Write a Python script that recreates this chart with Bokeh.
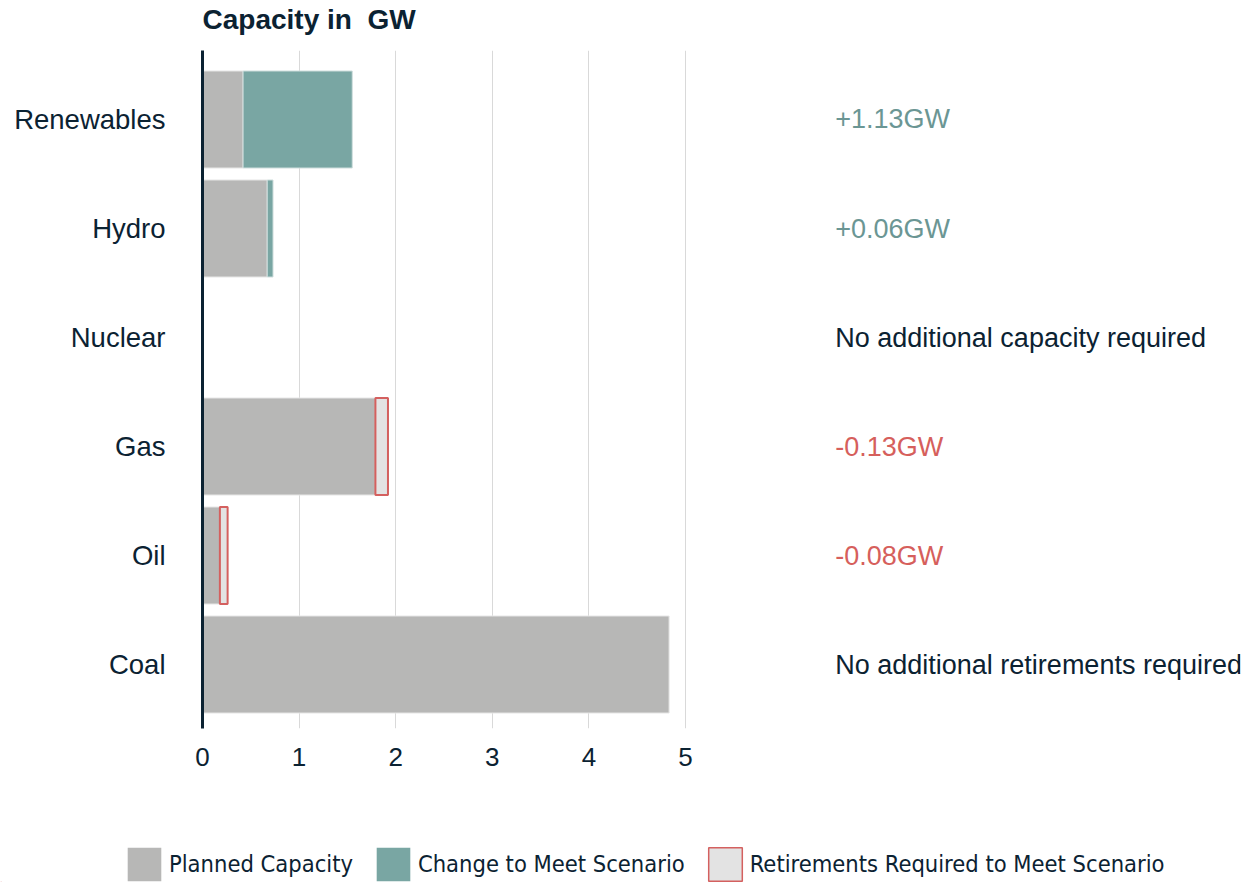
from bokeh.plotting import figure
from bokeh.models import Range1d, FixedTicker, Legend, LegendItem, ColumnDataSource
from bokeh.core.properties import value
from bokeh.embed import file_html
from bokeh.resources import INLINE

title_text = "Capacity in\u00a0 GW"
categories = ["Renewables", "Hydro", "Nuclear", "Gas", "Oil", "Coal"]
planned = [0.42, 0.67, 0.0, 1.79, 0.18, 4.83]
change = [1.13, 0.06, 0.0, 0.0, 0.0, 0.0]
retire = [0.0, 0.0, 0.0, 0.13, 0.08, 0.0]
notes = ["+1.13GW", "+0.06GW", "No additional capacity required",
         "-0.13GW", "-0.08GW", "No additional retirements required"]
note_kind = ["add", "add", "none", "ret", "ret", "none"]
x_ticks = [0, 1, 2, 3, 4, 5]
legend_labels = ["Planned Capacity", "Change to Meet Scenario",
                 "Retirements Required to Meet Scenario"]

DARK = "#0b2232"
GREY = "#b7b7b6"
TEAL = "#79a6a3"
RET_FILL = "#e3e3e3"
RET_LINE = "#d4605f"
kind_color = {"add": "#6b9694", "ret": "#d65f5c", "none": DARK}

W = 1249
n = len(categories)
ypos = [n - 1 - i for i in range(n)]


def bare(height):
    f = figure(width=W, height=height, output_backend="svg", toolbar_location=None,
               x_range=Range1d(0, W), y_range=Range1d(0, height),
               min_border_left=0, min_border_right=0, min_border_top=0,
               min_border_bottom=0)
    f.axis.visible = False
    f.grid.visible = False
    f.outline_line_color = None
    return f


# ---- title strip
tf = bare(50)
tf.text(x=[202], y=[31.5], text=[title_text], text_color=DARK,
        text_font=value("Liberation Sans"), text_font_size="28px",
        text_font_style="bold", text_align="left", text_baseline="alphabetic")

# ---- main chart
p = figure(width=W, height=750, output_backend="svg", toolbar_location=None,
           x_range=Range1d(0, 10.745), y_range=Range1d(-0.587, 5.633),
           min_border_left=202, min_border_right=9, min_border_top=0,
           min_border_bottom=72)
p.outline_line_color = None
p.background_fill_color = "white"

bar_h = 0.89

src_p = ColumnDataSource(dict(y=ypos, left=[0] * n, right=planned))
p.hbar(y="y", left="left", right="right", height=bar_h, source=src_p,
       fill_color=GREY, line_color="#e6e6e6", line_width=1)

cy, cl, cr = [], [], []
for y, pl, c in zip(ypos, planned, change):
    if c > 0:
        cy.append(y); cl.append(pl); cr.append(pl + c)
src_c = ColumnDataSource(dict(y=cy, left=cl, right=cr))
p.hbar(y="y", left="left", right="right", height=bar_h, source=src_c,
       fill_color=TEAL, line_color="#cfdedd", line_width=1)

ry, rl, rr = [], [], []
for y, pl, r in zip(ypos, planned, retire):
    if r > 0:
        ry.append(y); rl.append(pl); rr.append(pl + r)
src_r = ColumnDataSource(dict(y=ry, left=rl, right=rr))
p.hbar(y="y", left="left", right="right", height=bar_h, source=src_r,
       fill_color=RET_FILL, line_color=RET_LINE, line_width=2)

src_n = ColumnDataSource(dict(x=[6.55] * n, y=ypos, text=notes,
                              color=[kind_color[k] for k in note_kind]))
p.text(x="x", y="y", text="text", source=src_n, text_color="color",
       text_font=value("Liberation Sans"), text_font_size="27px",
       text_align="left", text_baseline="middle")

p.xaxis.ticker = FixedTicker(ticks=x_ticks)
p.xaxis.axis_line_color = None
p.xaxis.major_tick_line_color = None
p.xaxis.minor_tick_line_color = None
p.xaxis.major_label_text_font = "Liberation Sans"
p.xaxis.major_label_text_font_size = "26px"
p.xaxis.major_label_text_color = DARK
p.xaxis.major_label_standoff = 13

p.yaxis.ticker = FixedTicker(ticks=ypos)
p.yaxis.major_label_overrides = {y: c for y, c in zip(ypos, categories)}
p.yaxis.axis_line_color = DARK
p.yaxis.axis_line_width = 3
p.yaxis.major_tick_line_color = None
p.yaxis.minor_tick_line_color = None
p.yaxis.major_label_text_font = "Liberation Sans"
p.yaxis.major_label_text_font_size = "27.5px"
p.yaxis.major_label_text_color = DARK
p.yaxis.major_label_standoff = 31

p.xgrid.ticker = FixedTicker(ticks=x_ticks)
p.xgrid.grid_line_color = "#d9d9d9"
p.xgrid.grid_line_width = 1
p.ygrid.grid_line_color = None

# ---- legend strip
lf = bare(82)
dummy = dict(y=[-100], left=[0], right=[1])
lr1 = lf.hbar(y="y", left="left", right="right", height=1,
              source=ColumnDataSource(dict(dummy)), fill_color=GREY, line_color=None)
lr2 = lf.hbar(y="y", left="left", right="right", height=1,
              source=ColumnDataSource(dict(dummy)), fill_color=TEAL, line_color=None)
lr3 = lf.hbar(y="y", left="left", right="right", height=1,
              source=ColumnDataSource(dict(dummy)), fill_color=RET_FILL,
              line_color=RET_LINE, line_width=1.5)
legend = Legend(items=[LegendItem(label=lab, renderers=[r])
                       for lab, r in zip(legend_labels, [lr1, lr2, lr3])],
                orientation="horizontal", location=(123, -3))
legend.glyph_width = 42
legend.glyph_height = 42
legend.label_standoff = 4
legend.spacing = 19
legend.padding = 0
legend.margin = 0
legend.border_line_color = None
legend.background_fill_alpha = 0
legend.label_text_font = "DejaVu Sans Condensed"
legend.label_text_font_size = "23.5px"
legend.label_text_color = DARK
lf.add_layout(legend, "center")

open("out.html", "w").write(file_html([tf, p, lf], INLINE))
